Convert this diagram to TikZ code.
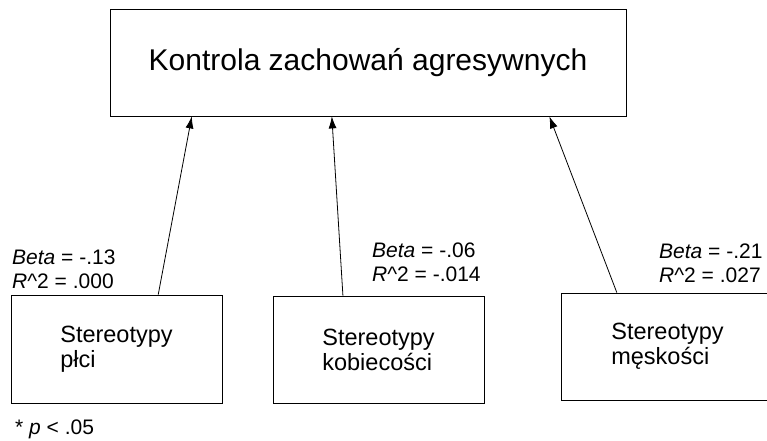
\documentclass[tikz,border=0pt]{standalone}
\usepackage{fontspec}
\setmainfont{Liberation Sans}
\usetikzlibrary{arrows.meta,calc}

\begin{document}
\begin{tikzpicture}[x=1pt,y=-1pt,
    box/.style={draw=black, line width=0.8pt, minimum width=211pt, minimum height=107pt, inner sep=0pt, align=left, font=\fontsize{23.5}{25}\selectfont},
    stat/.style={anchor=base west, inner sep=0pt, align=left, font=\fontsize{21}{24}\selectfont},
    effect/.style={line width=0.8pt, -{Latex[length=12pt,width=8pt]}}]
    \useasboundingbox (0,0) rectangle (767,440);
    \node[box, minimum width=516pt, font=\fontsize{30}{34}\selectfont] (kontrola) at (368,62.5) {Kontrola zachowań agresywnych};
    \node[box, minimum height=108pt] (plec) at (116.5,349) {Stereotypy\\płci};
    \node[box] (kobiec) at (378.5,349.5) {Stereotypy\\kobiecości};
    \node[box, minimum width=213pt] (meskosc) at (667.5,346.5) {Stereotypy\\męskości};
    \draw[effect] ($(plec.north west)!0.697!(plec.north east)$) -- ($(kontrola.south west)!0.159!(kontrola.south east)$);
    \draw[effect] ($(kobiec.north west)!0.332!(kobiec.north east)$) -- ($(kontrola.south west)!0.430!(kontrola.south east)$);
    \draw[effect] ($(meskosc.north west)!0.263!(meskosc.north east)$) -- ($(kontrola.south west)!0.851!(kontrola.south east)$);
    \node[stat] (stat1) at (12,288) {\textit{Beta} = -.13\\\textit{R}\textasciicircum2 = .000};
    \node[stat] (stat2) at (372,281) {\textit{Beta} = -.06\\\textit{R}\textasciicircum2 = -.014};
    \node[stat] (stat3) at (659,282) {\textit{Beta} = -.21\\\textit{R}\textasciicircum2 = .027};
    \node[stat] (note) at (15,434) {* \textit{p} < .05};
\end{tikzpicture}
\end{document}
